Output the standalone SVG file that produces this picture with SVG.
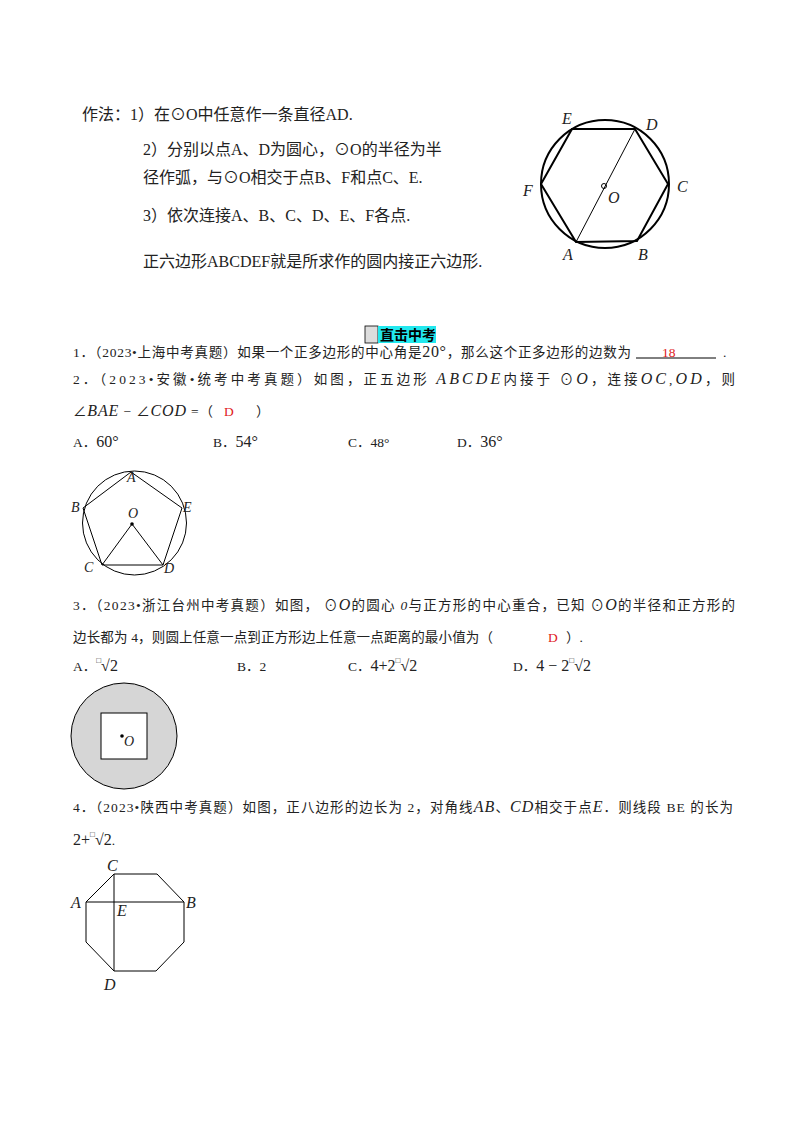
<svg xmlns="http://www.w3.org/2000/svg" width="800" height="1132" viewBox="0 0 800 1132">
<style>
text{font-family:"Liberation Serif","Noto Sans CJK SC",serif;font-size:13.5px;fill:#222}
.big{font-size:16px}
.it{font-style:italic}
.red{fill:#e02020}
.lab{font-style:italic;font-size:16px}
.sl{font-style:italic;font-size:14px}
.opt{font-size:16px}
.sup{font-size:8px}
.ln{fill:none;stroke:#000;stroke-width:1}
.thick{fill:none;stroke:#000;stroke-width:2}
</style>
<rect width="800" height="1132" fill="#fff"/>
<g id="method">
<text class="big" x="82" y="120">作法：1）在⊙O中任意作一条直径AD.</text>
<text class="big" x="143" y="155">2）分别以点A、D为圆心，⊙O的半径为半</text>
<text class="big" x="143" y="183">径作弧，与⊙O相交于点B、F和点C、E.</text>
<text class="big" x="143" y="221">3）依次连接A、B、C、D、E、F各点.</text>
<text class="big" x="143" y="267">正六边形ABCDEF就是所求作的圆内接正六边形.</text>
</g>
<g id="hexfig">
<circle class="thick" cx="605" cy="184" r="64"/>
<polygon class="thick" points="572,129 635,129 668,184 637,241 576,242 541,184"/>
<line class="ln" x1="635" y1="129" x2="576" y2="242" stroke-width="1.5"/>
<circle cx="604" cy="186" r="2.5" fill="none" stroke="#000"/>
<text class="lab" x="562" y="124">E</text>
<text class="lab" x="646" y="130">D</text>
<text class="lab" x="677" y="192">C</text>
<text class="lab" x="638" y="260">B</text>
<text class="lab" x="563" y="260">A</text>
<text class="lab" x="523" y="196">F</text>
<text class="lab" x="608" y="203">O</text>
</g>
<g id="title">
<rect x="365" y="326" width="13" height="17" fill="#ddd" stroke="#000" stroke-width="0.8"/>
<rect x="378" y="326" width="58" height="17" fill="#22e8ee"/>
<text x="380" y="340" style="font-weight:bold;font-size:14px;fill:#000">直击中考</text>
</g>
<g id="q1">
<text x="73" y="357" textLength="558" lengthAdjust="spacing">1．（2023•上海中考真题）如果一个正多边形的中心角是<tspan class="opt">20°</tspan>，那么这个正多边形的边数为</text>
<text class="red" x="662" y="357">18</text>
<line x1="636" y1="358" x2="716" y2="358" stroke="#000" stroke-width="1"/>
<text x="723" y="357">.</text>
</g>
<g id="q2">
<text x="73" y="384" textLength="662" lengthAdjust="spacing">2．（2023•安徽•统考中考真题）如图，正五边形 <tspan class="lab">ABCDE</tspan>内接于 ⊙<tspan class="lab">O</tspan>，连接<tspan class="lab">OC</tspan>,<tspan class="lab">OD</tspan>，则</text>
<text x="73" y="416" textLength="140" lengthAdjust="spacing">∠<tspan class="lab">BAE</tspan> − ∠<tspan class="lab">COD</tspan> =（</text>
<text class="red" x="224" y="416">D</text>
<text x="256" y="416">）</text>
<text x="73" y="447">A．<tspan class="opt">60°</tspan></text>
<text x="213" y="447">B．<tspan class="opt">54°</tspan></text>
<text x="348" y="447">C．48°</text>
<text x="457" y="447">D．<tspan class="opt">36°</tspan></text>
</g>
<g id="pentfig">
<circle class="ln" cx="134.5" cy="523" r="52"/>
<polygon class="ln" points="131,472 182,508 163,565 102,565 83,508"/>
<polyline class="ln" points="102,565 132,524 163,565"/>
<circle cx="132" cy="524" r="1.8" fill="#000"/>
<text class="sl" x="127" y="482">A</text>
<text class="sl" x="71" y="512">B</text>
<text class="sl" x="183" y="512">E</text>
<text class="sl" x="128" y="518">O</text>
<text class="sl" x="84" y="572">C</text>
<text class="sl" x="164" y="573">D</text>
</g>
<g id="q3">
<text x="73" y="610" textLength="662" lengthAdjust="spacing">3．（2023•浙江台州中考真题）如图， ⊙<tspan class="lab">O</tspan>的圆心 <tspan class="it">0</tspan>与正方形的中心重合，已知 ⊙<tspan class="lab">O</tspan>的半径和正方形的</text>
<text x="73" y="642" textLength="420" lengthAdjust="spacing">边长都为 4，则圆上任意一点到正方形边上任意一点距离的最小值为（</text>
<text class="red" x="548" y="642">D</text>
<text x="566" y="642">）.</text>
<text x="73" y="671">A．<tspan class="sup" dy="-8">□</tspan><tspan class="opt" dy="8">√2</tspan></text>
<text x="237" y="671">B．2</text>
<text x="348" y="671">C．<tspan class="opt">4+2</tspan><tspan class="sup" dy="-8">□</tspan><tspan class="opt" dy="8">√2</tspan></text>
<text x="513" y="671">D．<tspan class="opt">4 − 2</tspan><tspan class="sup" dy="-8">□</tspan><tspan class="opt" dy="8">√2</tspan></text>
</g>
<g id="sqfig">
<circle cx="124" cy="736" r="53" fill="#d6d6d6" stroke="#000" stroke-width="1"/>
<rect x="101" y="713" width="46" height="46" fill="#fff" stroke="#000" stroke-width="1"/>
<circle cx="122" cy="736" r="1.8" fill="#000"/>
<text class="sl" x="124" y="746">O</text>
</g>
<g id="q4">
<text x="73" y="812" textLength="660" lengthAdjust="spacing">4．（2023•陕西中考真题）如图，正八边形的边长为 2，对角线<tspan class="lab">AB</tspan>、<tspan class="lab">CD</tspan>相交于点<tspan class="lab">E</tspan>．则线段 BE 的长为</text>
<text x="73" y="845"><tspan class="opt">2+</tspan><tspan class="sup" dy="-8">□</tspan><tspan class="opt" dy="8">√2</tspan>.</text>
</g>
<g id="octfig">
<polygon class="ln" points="114,874 157,874 184,902 184,942 156,971 114,971 86,942 86,902"/>
<line class="ln" x1="86" y1="902" x2="184" y2="902"/>
<line class="ln" x1="114" y1="874" x2="114" y2="971"/>
<text class="lab" x="107" y="871">C</text>
<text class="lab" x="71" y="908">A</text>
<text class="lab" x="186" y="908">B</text>
<text class="lab" x="117" y="916">E</text>
<text class="lab" x="104" y="990">D</text>
</g>
</svg>
